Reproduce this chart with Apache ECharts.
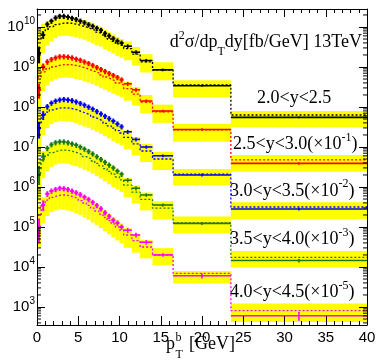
<!DOCTYPE html>
<html><head><meta charset="utf-8">
<script src="https://cdn.jsdelivr.net/npm/echarts@6/dist/echarts.min.js"></script>
<style>html,body{margin:0;padding:0;background:#fff}#c{width:376px;height:361px}</style>
</head><body><div id="c"></div>
<script>
// pT bin edges [GeV]
const binEdges = [0,0.5,1,1.5,2,2.5,3,3.5,4,4.5,5,5.5,6,6.5,7,7.5,8,8.5,9,9.5,10,10.5,11.5,12.5,14,16.5,23.5,40];
const xTickValues = [0,5,10,15,20,25,30,35,40];
const yDecades = [3,4,5,6,7,8,9,10];

// data points (already multiplied by the scale in the label)
const blackData = [2.24e9,6.31e9,1.17e10,1.41e10,1.70e10,1.86e10,1.86e10,1.78e10,1.66e10,1.55e10,1.41e10,1.29e10,1.15e10,1.05e10,9.33e9,8.32e9,6.92e9,6.03e9,5.13e9,4.47e9,3.98e9,3.31e9,2.34e9,1.45e9,8.51e8,3.39e8,5.50e7];
const redData = [2.69e8,1.02e9,1.35e9,1.55e9,1.70e9,1.82e9,1.82e9,1.78e9,1.70e9,1.58e9,1.48e9,1.35e9,1.23e9,1.10e9,9.77e8,8.71e8,7.76e8,6.92e8,6.17e8,5.50e8,4.79e8,3.80e8,2.69e8,1.41e8,7.94e7,2.75e7,3.89e6];
const blueData = [2.95e7,6.31e7,1.02e8,1.26e8,1.41e8,1.51e8,1.55e8,1.51e8,1.45e8,1.35e8,1.23e8,1.12e8,1.00e8,8.91e7,7.76e7,6.76e7,5.89e7,5.13e7,4.47e7,3.80e7,3.24e7,2.40e7,1.55e7,1.00e7,6.03e6,2.00e6,2.82e5];
const greenData = [2.24e6,5.75e6,9.33e6,1.15e7,1.29e7,1.35e7,1.35e7,1.29e7,1.20e7,1.12e7,1.00e7,8.91e6,7.76e6,6.76e6,5.75e6,4.90e6,4.17e6,3.55e6,3.02e6,2.51e6,2.09e6,1.48e6,9.33e5,6.31e5,3.55e5,1.23e5,1.45e4];
const magentaData = [1.02e5,3.55e5,6.76e5,7.94e5,8.71e5,9.33e5,9.12e5,8.71e5,7.94e5,7.24e5,6.46e5,5.62e5,4.90e5,4.17e5,3.47e5,2.88e5,2.29e5,1.86e5,1.48e5,1.26e5,1.00e5,8.32e4,6.31e4,4.17e4,2.00e4,6.03e3,6.03e2];

// relative data uncertainty
const blackErr = [0.45,0.2,0.16,0.15,0.15,0.15,0.15,0.15,0.15,0.15,0.15,0.15,0.15,0.15,0.15,0.15,0.15,0.15,0.15,0.15,0.15,0.12,0.12,0.1,0.08,0.06,0.05];
const redErr = [0.4,0.2,0.16,0.15,0.15,0.15,0.15,0.15,0.15,0.15,0.15,0.15,0.15,0.15,0.15,0.15,0.15,0.15,0.15,0.15,0.15,0.12,0.12,0.1,0.08,0.07,0.07];
const blueErr = [0.45,0.25,0.16,0.15,0.15,0.15,0.15,0.15,0.15,0.15,0.15,0.15,0.15,0.15,0.15,0.15,0.15,0.15,0.15,0.15,0.15,0.12,0.12,0.1,0.08,0.08,0.08];
const greenErr = [0.5,0.25,0.16,0.15,0.15,0.15,0.15,0.15,0.15,0.15,0.15,0.15,0.15,0.15,0.15,0.15,0.15,0.15,0.15,0.15,0.15,0.12,0.12,0.1,0.09,0.09,0.1];
const magentaErr = [0.6,0.3,0.16,0.15,0.15,0.15,0.15,0.15,0.15,0.15,0.15,0.15,0.15,0.15,0.15,0.15,0.15,0.15,0.15,0.15,0.15,0.14,0.14,0.13,0.1,0.15,0.25];

// theory central values (dashed)
const blackTheory = [5.01e9,7.59e9,8.91e9,1.02e10,1.15e10,1.23e10,1.26e10,1.26e10,1.20e10,1.15e10,1.07e10,1.00e10,9.12e9,8.32e9,7.41e9,6.61e9,5.75e9,5.01e9,4.37e9,3.80e9,3.39e9,2.88e9,2.09e9,1.35e9,8.32e8,3.55e8,6.31e7];
const redTheory = [5.62e8,7.59e8,8.91e8,1.00e9,1.07e9,1.12e9,1.15e9,1.15e9,1.12e9,1.07e9,1.00e9,9.33e8,8.51e8,7.76e8,7.08e8,6.31e8,5.62e8,5.01e8,4.47e8,3.98e8,3.55e8,2.88e8,2.09e8,1.32e8,7.59e7,2.69e7,4.79e6];
const blueTheory = [3.98e7,6.03e7,7.41e7,8.51e7,9.12e7,9.55e7,9.55e7,9.33e7,8.91e7,8.32e7,7.59e7,6.92e7,6.31e7,5.62e7,5.01e7,4.47e7,3.89e7,3.39e7,2.95e7,2.57e7,2.24e7,1.74e7,1.20e7,7.94e6,5.01e6,2.09e6,3.16e5];
const greenTheory = [2.82e6,5.01e6,6.31e6,7.24e6,7.94e6,8.32e6,8.32e6,8.13e6,7.59e6,7.08e6,6.46e6,5.75e6,5.13e6,4.47e6,3.89e6,3.39e6,2.88e6,2.45e6,2.09e6,1.78e6,1.51e6,1.12e6,7.41e5,4.90e5,2.95e5,1.26e5,1.74e4];
const magentaTheory = [2.00e5,3.55e5,4.68e5,5.50e5,6.03e5,6.31e5,6.31e5,6.03e5,5.62e5,5.13e5,4.57e5,3.98e5,3.47e5,2.95e5,2.51e5,2.09e5,1.74e5,1.45e5,1.20e5,1.00e5,8.32e4,6.31e4,4.57e4,3.16e4,2.00e4,6.92e3,8.13e2];

// theory relative uncertainty (up / down)
const blackUp = [0.78,0.58,0.58,0.55,0.51,0.48,0.48,0.48,0.48,0.48,0.48,0.48,0.48,0.48,0.48,0.48,0.48,0.48,0.48,0.48,0.48,0.51,0.51,0.55,0.58,0.32,0.26];
const blackDown = [0.84,0.70,0.60,0.56,0.54,0.52,0.52,0.52,0.52,0.52,0.52,0.52,0.52,0.52,0.52,0.51,0.51,0.50,0.50,0.50,0.50,0.49,0.48,0.46,0.44,0.50,0.50];
const redUp = [0.78,0.58,0.55,0.51,0.48,0.48,0.48,0.48,0.48,0.48,0.48,0.48,0.48,0.48,0.48,0.48,0.48,0.48,0.48,0.48,0.48,0.48,0.48,0.51,0.51,0.40,0.32];
const redDown = [0.84,0.67,0.60,0.56,0.54,0.53,0.53,0.53,0.53,0.53,0.53,0.53,0.52,0.52,0.52,0.52,0.52,0.52,0.52,0.51,0.50,0.50,0.48,0.47,0.47,0.50,0.50];
const blueUp = [0.78,0.58,0.55,0.51,0.48,0.48,0.48,0.48,0.48,0.48,0.48,0.48,0.48,0.48,0.48,0.48,0.48,0.48,0.48,0.48,0.48,0.48,0.48,0.51,0.51,0.35,0.32];
const blueDown = [0.84,0.67,0.60,0.56,0.54,0.53,0.53,0.53,0.53,0.53,0.53,0.53,0.52,0.52,0.52,0.52,0.52,0.52,0.52,0.51,0.50,0.50,0.48,0.47,0.47,0.46,0.50];
const greenUp = [0.78,0.58,0.55,0.51,0.48,0.48,0.48,0.48,0.48,0.48,0.48,0.48,0.48,0.48,0.48,0.48,0.48,0.48,0.48,0.48,0.48,0.48,0.48,0.48,0.48,0.45,0.45];
const greenDown = [0.84,0.67,0.60,0.56,0.54,0.53,0.53,0.53,0.53,0.53,0.53,0.53,0.52,0.52,0.52,0.52,0.52,0.52,0.52,0.51,0.50,0.50,0.48,0.47,0.47,0.45,0.44];
const magentaUp = [0.78,0.55,0.51,0.48,0.48,0.48,0.48,0.48,0.48,0.48,0.48,0.48,0.48,0.48,0.48,0.48,0.48,0.48,0.48,0.48,0.48,0.48,0.48,0.48,0.48,0.15,0.51];
const magentaDown = [0.84,0.65,0.60,0.57,0.57,0.57,0.57,0.57,0.57,0.57,0.56,0.56,0.56,0.56,0.55,0.55,0.55,0.55,0.54,0.54,0.53,0.52,0.50,0.48,0.44,0.44,0.48];

const groups = [
  {color:'#000000', data:blackData, err:blackErr, theory:blackTheory, up:blackUp, down:blackDown},
  {color:'#ff0000', data:redData, err:redErr, theory:redTheory, up:redUp, down:redDown},
  {color:'#0000ff', data:blueData, err:blueErr, theory:blueTheory, up:blueUp, down:blueDown},
  {color:'#1c7a1c', data:greenData, err:greenErr, theory:greenTheory, up:greenUp, down:greenDown},
  {color:'#ff00ff', data:magentaData, err:magentaErr, theory:magentaTheory, up:magentaUp, down:magentaDown}
];

const YMIN = Math.pow(10, 2.55), YMAX = Math.pow(10, 10.45);
const FONT_SERIF = 'Liberation Serif';
const FONT_SANS = 'Liberation Sans';

const series = [];
groups.forEach(g => {
  series.push({
    type:'custom', z:1, silent:true, clip:true,
    encode:{x:[0,1], y:[2,3]},
    data: g.theory.map((t,i) => [binEdges[i], binEdges[i+1], t*(1-g.down[i]), t*(1+g.up[i])]),
    renderItem:(params, api) => {
      const p0 = api.coord([api.value(0), api.value(3)]);
      const p1 = api.coord([api.value(1), api.value(2)]);
      return {type:'rect', shape:{x:p0[0], y:p0[1], width:p1[0]-p0[0], height:p1[1]-p0[1]}, style:{fill:'#ffff00'}};
    }
  });
});
groups.forEach(g => {
  const pts = g.theory.map((t,i) => [binEdges[i], t]);
  pts.push([binEdges[binEdges.length-1], g.theory[g.theory.length-1]]);
  series.push({
    type:'line', z:2, silent:true, step:'end', symbol:'none', data:pts,
    lineStyle:{color:g.color, width:1.3, type:[2,2]}
  });
});
groups.forEach(g => {
  series.push({
    type:'custom', z:3, silent:true,
    encode:{x:[0,1], y:[2,3,4]},
    data: g.data.map((v,i) => [binEdges[i], binEdges[i+1], v, v*(1-g.err[i]), v*(1+g.err[i])]),
    renderItem:(params, api) => {
      const x0 = api.value(0), x1 = api.value(1), v = api.value(2);
      const xc = (x0 + x1) / 2;
      const a = api.coord([x0, v]), b = api.coord([x1, v]);
      const lo = api.coord([xc, api.value(3)]), hi = api.coord([xc, api.value(4)]);
      const st = {stroke:g.color, lineWidth:(x1 - x0) <= 0.5 ? 2 : 1.6};
      return {type:'group', children:[
        {type:'line', shape:{x1:a[0], y1:a[1], x2:b[0], y2:b[1]}, style:st},
        {type:'line', shape:{x1:lo[0], y1:lo[1], x2:hi[0], y2:hi[1]}, style:st}
      ]};
    }
  });
});
const minorVals = [];
[2].concat(yDecades).forEach(d => { for (let m = 2; m <= 9; m++) { const v = m*Math.pow(10,d); if (v > YMIN && v < YMAX) minorVals.push([0, v]); } });
series.push({
  type:'custom', z:20, silent:true, encode:{x:0, y:1}, data:minorVals,
  renderItem:(params, api) => {
    const v = api.value(1);
    const l = api.coord([0, v]), r = api.coord([40, v]);
    const st = {stroke:'#000', lineWidth:1};
    return {type:'group', children:[
      {type:'line', shape:{x1:l[0], y1:l[1], x2:l[0]+4, y2:l[1]}, style:st},
      {type:'line', shape:{x1:r[0]-4, y1:r[1], x2:r[0], y2:r[1]}, style:st}
    ]};
  }
});

const axLine = {show:true, onZero:false, lineStyle:{color:'#000', width:1}};
const option = {
  animation:false,
  backgroundColor:'#fff',
  grid:{left:37, right:9, top:9, bottom:36, containLabel:false, outerBoundsMode:'none'},
  xAxis:[
    {type:'value', min:0, max:40, interval:5, position:'bottom', z:10,
     axisLine:axLine, splitLine:{show:false},
     axisTick:{inside:true, length:9, lineStyle:{color:'#000'}},
     minorTick:{show:true, splitNumber:5, length:4, lineStyle:{color:'#000'}},
     axisLabel:{color:'#000', fontSize:15, fontFamily:FONT_SANS, margin:5,
       formatter:v => xTickValues.includes(v) ? String(v) : ''}},
    {type:'value', min:0, max:40, interval:5, position:'top', z:10,
     axisLine:axLine, splitLine:{show:false},
     axisTick:{inside:true, length:8, lineStyle:{color:'#000'}},
     minorTick:{show:true, splitNumber:5, length:4, lineStyle:{color:'#000'}},
     axisLabel:{show:false}}
  ],
  yAxis:[
    {type:'log', logBase:10, min:YMIN, max:YMAX, position:'left', z:10,
     axisLine:axLine, splitLine:{show:false},
     axisTick:{inside:true, length:8, lineStyle:{color:'#000'}},
     axisLabel:{margin:2, showMinLabel:false, showMaxLabel:false,
       formatter:v => { const e = Math.round(Math.log10(v)); return yDecades.includes(e) ? '{b|10}{s|' + e + '}' : ''; },
       rich:{
         b:{fontSize:15, fontFamily:FONT_SANS, color:'#000', padding:[3,0,3,0], verticalAlign:'middle'},
         s:{fontSize:10, fontFamily:FONT_SANS, color:'#000', verticalAlign:'top'}
       }}},
    {type:'log', logBase:10, min:YMIN, max:YMAX, position:'right', z:10,
     axisLine:axLine, splitLine:{show:false},
     axisTick:{inside:true, length:8, lineStyle:{color:'#000'}},
     axisLabel:{show:false}}
  ],
  series:series,
  graphic:[]
};

const richT = {
  a:{fontFamily:FONT_SERIF, fontSize:18, color:'#000', padding:[6,0,6,0], verticalAlign:'middle'},
  p:{fontFamily:FONT_SERIF, fontSize:12, color:'#000', padding:[2,0,0,0], verticalAlign:'top'},
  d:{fontFamily:FONT_SERIF, fontSize:12, color:'#000', verticalAlign:'bottom'}
};
function txt(x, y, text, align) {
  return {type:'text', x:x, y:y, z:30, silent:true,
    style:{text:text, rich:richT, fill:'#000', align:align||'left', textAlign:align||'left', verticalAlign:'middle', textVerticalAlign:'middle', font:'18px "Liberation Serif"'}};
}
option.graphic = [
  txt(362, 42.5, '{a|d}{p|2}{a|σ/dp}{d|T}{a|dy[fb/GeV] 13TeV}', 'right'),
  txt(257, 98.5, '{a|2.0<y<2.5}'),
  txt(233, 144.5, '{a|2.5<y<3.0(×10}{p|-1}{a|)}'),
  txt(230, 191, '{a|3.0<y<3.5(×10}{p|-2}{a|)}'),
  txt(230, 239.5, '{a|3.5<y<4.0(×10}{p|-3}{a|)}'),
  txt(230, 292.5, '{a|4.0<y<4.5(×10}{p|-5}{a|)}'),
  {type:'text', x:166, y:344.5, z:30, silent:true, style:{text:'p', font:'18px "Liberation Serif"', fill:'#000', verticalAlign:'middle', textVerticalAlign:'middle'}},
  {type:'text', x:175.5, y:338, z:30, silent:true, style:{text:'b', font:'12px "Liberation Serif"', fill:'#000', verticalAlign:'middle', textVerticalAlign:'middle'}},
  {type:'text', x:175.5, y:354.5, z:30, silent:true, style:{text:'T', font:'12px "Liberation Serif"', fill:'#000', verticalAlign:'middle', textVerticalAlign:'middle'}},
  {type:'text', x:189, y:344.5, z:30, silent:true, style:{text:'[GeV]', font:'18px "Liberation Serif"', fill:'#000', verticalAlign:'middle', textVerticalAlign:'middle'}}
];

const chart = echarts.init(document.getElementById('c'), null, {renderer:'canvas'});
chart.setOption(option);
</script>
</body></html>
